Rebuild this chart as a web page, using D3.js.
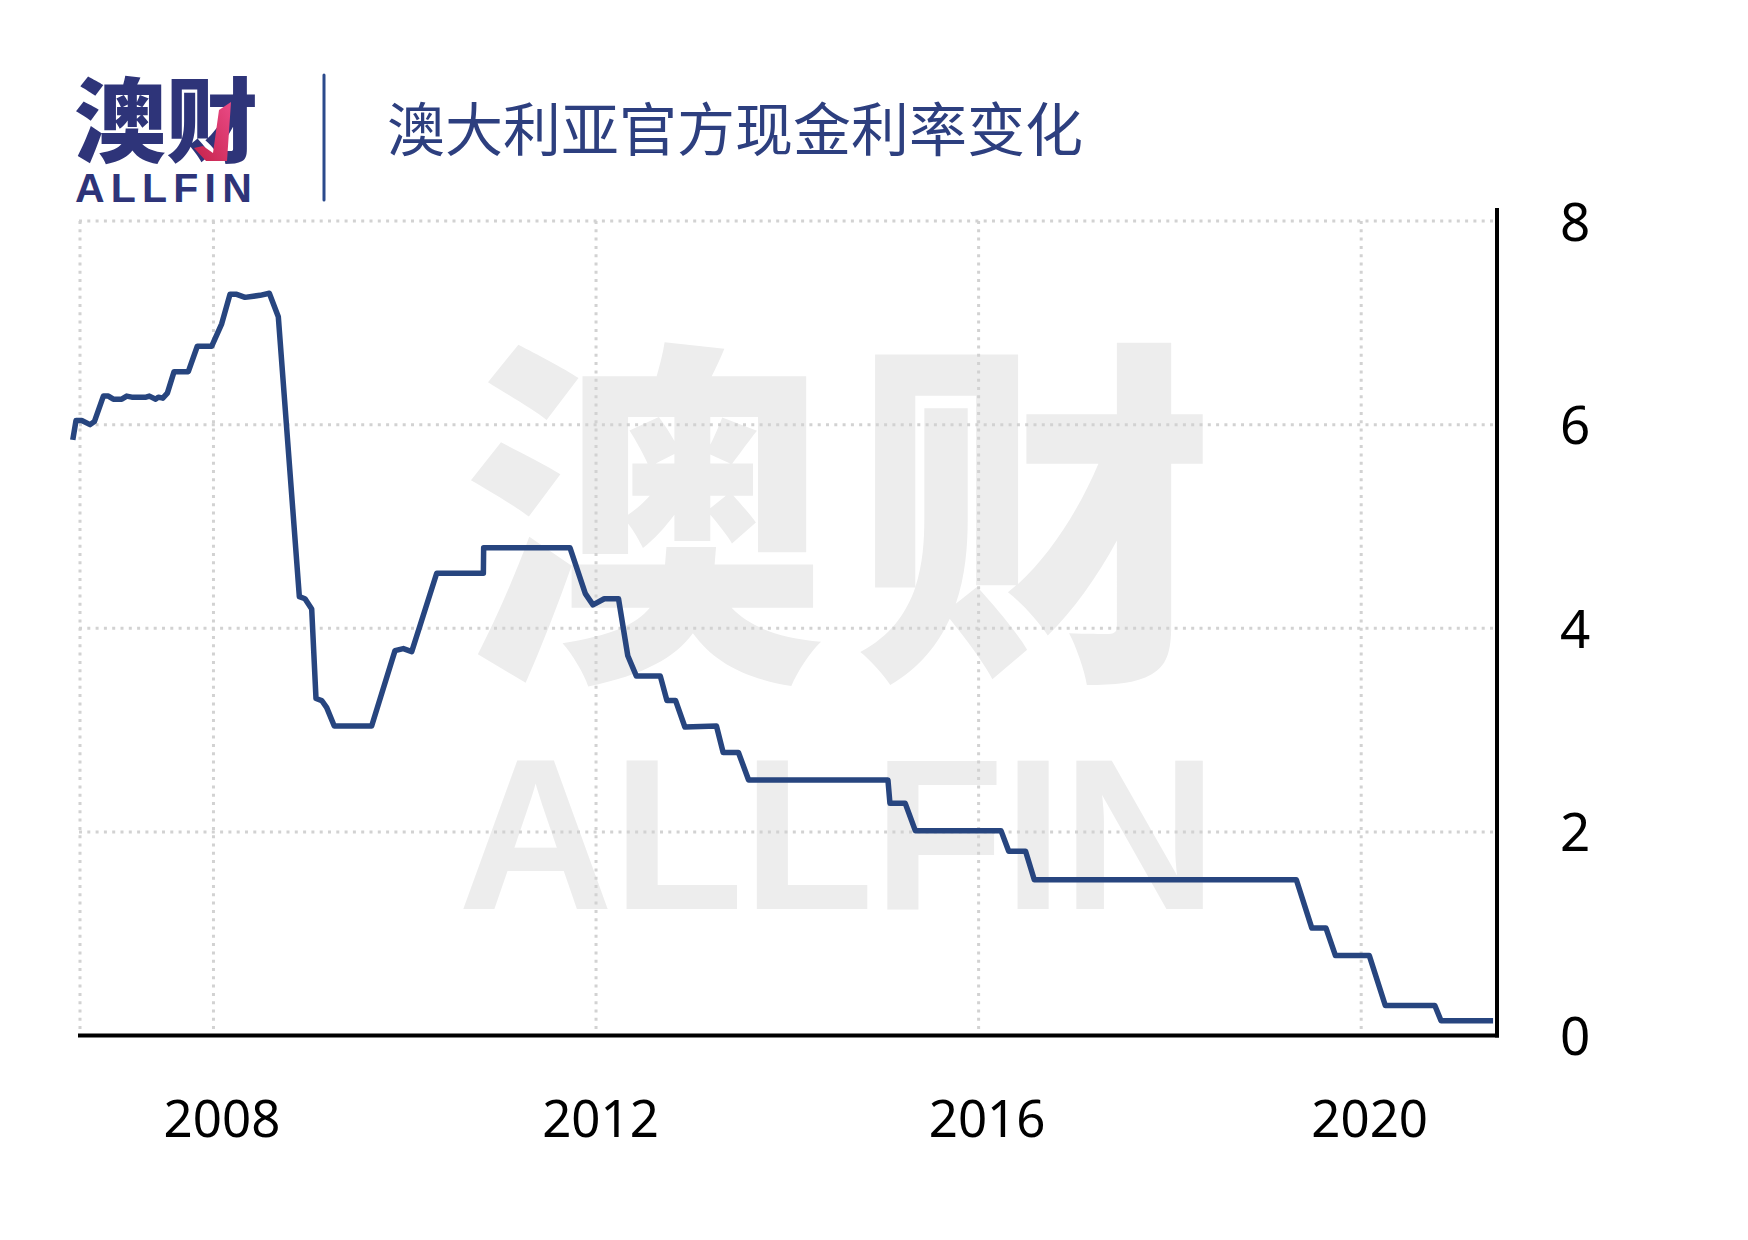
<!DOCTYPE html>
<html>
<head>
<meta charset="utf-8">
<script src="https://cdn.jsdelivr.net/npm/d3@7"></script>
<style>
html,body{margin:0;padding:0;background:#fff;}
svg{display:block;}
</style>
</head>
<body>
<svg id="chart" width="1748" height="1240"></svg>
<script>
// ---- data ----
const titleText = "澳大利亚官方现金利率变化";
const logoText = "澳财";
const logoSub = "ALLFIN";
const dates = [
  2006.529, 2006.563, 2006.623, 2006.710, 2006.755, 2006.849, 2006.901, 2006.953,
  2007.041, 2007.093, 2007.146, 2007.295, 2007.330, 2007.396, 2007.424, 2007.470,
  2007.518, 2007.588, 2007.737, 2007.831, 2007.982, 2008.086, 2008.173, 2008.243,
  2008.330, 2008.487, 2008.584, 2008.678, 2008.898, 2008.957, 2009.027, 2009.072,
  2009.132, 2009.184, 2009.263, 2009.654, 2009.898, 2009.985, 2010.073, 2010.334,
  2010.822, 2010.825, 2011.728, 2011.888, 2011.968, 2012.086, 2012.235, 2012.332,
  2012.422, 2012.672, 2012.741, 2012.832, 2012.929, 2013.259, 2013.329, 2013.489,
  2013.595, 2015.052, 2015.073, 2015.233, 2015.339, 2016.235, 2016.315, 2016.491,
  2016.582, 2019.322, 2019.484, 2019.632, 2019.731, 2020.085, 2020.252, 2020.770,
  2020.835, 2021.379
];
const rates = [
  5.85, 6.04, 6.04, 6.00, 6.03, 6.28, 6.28, 6.25,
  6.25, 6.28, 6.27, 6.27, 6.28, 6.25, 6.27, 6.26,
  6.31, 6.52, 6.52, 6.77, 6.77, 6.99, 7.28, 7.28,
  7.25, 7.27, 7.29, 7.06, 4.31, 4.29, 4.19, 3.31,
  3.29, 3.22, 3.04, 3.04, 3.78, 3.80, 3.77, 4.54,
  4.54, 4.79, 4.79, 4.34, 4.23, 4.29, 4.29, 3.73,
  3.53, 3.53, 3.29, 3.29, 3.03, 3.04, 2.78, 2.78,
  2.51, 2.51, 2.28, 2.28, 2.01, 2.01, 1.81, 1.81,
  1.53, 1.53, 1.055, 1.055, 0.785, 0.785, 0.295, 0.295,
  0.145, 0.145
];
const xTickValues = [2008, 2012, 2016, 2020];
const xTickLabels = ["2008", "2012", "2016", "2020"];
const yTickValues = [0, 2, 4, 6, 8];
const yTickLabels = ["0", "2", "4", "6", "8"];

// ---- layout ----
const svg = d3.select("#chart");
const x = d3.scaleLinear().domain([2006.5, 2021.42]).range([70, 1497]);
const y = d3.scaleLinear().domain([0, 8]).range([1035.5, 221]);
const plotLeft = 79, plotRight = 1497;
const navy = "#2e3479";
const lineColor = "#27457f";
const gridColor = "#d2d2d2";

svg.append("rect").attr("width", 1748).attr("height", 1240).attr("fill", "#fff");

const defs = svg.append("defs");
const grad = defs.append("linearGradient").attr("id", "pinkGrad")
  .attr("x1", "0").attr("y1", "1").attr("x2", "1").attr("y2", "0");
grad.append("stop").attr("offset", "0").attr("stop-color", "#c4224a");
grad.append("stop").attr("offset", "1").attr("stop-color", "#ea4a86");

// ---- watermark (one text block: characters + latin name) ----
const wm = svg.append("text").attr("fill", "#ededed").attr("font-weight", 900);
wm.append("tspan")
  .attr("x", 463).attr("y", 652)
  .attr("font-family", "'Noto Sans CJK SC'")
  .attr("font-size", 362)
  .attr("letter-spacing", 28)
  .text(logoText);
wm.append("tspan")
  .attr("x", 458).attr("y", 909)
  .attr("font-family", "'Liberation Sans', Arial, sans-serif")
  .attr("font-weight", 700)
  .attr("font-size", 215)
  .attr("letter-spacing", -1)
  .text(logoSub);

// ---- gridlines ----
const grid = svg.append("g")
  .attr("stroke", gridColor)
  .attr("stroke-width", 3)
  .attr("stroke-dasharray", "3 5.3");
grid.selectAll("line.h")
  .data(yTickValues.filter(v => v > 0))
  .join("line")
  .attr("class", "h")
  .attr("x1", plotLeft).attr("x2", plotRight - 4)
  .attr("y1", d => y(d)).attr("y2", d => y(d));
grid.selectAll("line.v")
  .data(xTickValues)
  .join("line")
  .attr("class", "v")
  .attr("x1", d => x(d)).attr("x2", d => x(d))
  .attr("y1", y(8)).attr("y2", y(0));
grid.append("line")
  .attr("x1", plotLeft + 1).attr("x2", plotLeft + 1)
  .attr("y1", y(8)).attr("y2", y(0));

// ---- axes ----
const xAxis = d3.axisBottom(x).tickValues(xTickValues).tickSize(0)
  .tickFormat((d, i) => xTickLabels[i]);
const gx = svg.append("g").attr("transform", `translate(0,${y(0)})`).call(xAxis);
gx.select(".domain").remove();
gx.selectAll("text")
  .attr("fill", "#000")
  .attr("font-family", "'Noto Sans', sans-serif")
  .attr("font-size", 51)
  .attr("dy", null)
  .attr("y", 101.5)
  .attr("x", (d, i) => i === 1 ? 4 : 8);

const yAxis = d3.axisRight(y).tickValues(yTickValues).tickSize(0)
  .tickFormat((d, i) => yTickLabels[i]);
const gy = svg.append("g").attr("transform", `translate(${plotRight},0)`).call(yAxis);
gy.select(".domain").remove();
gy.selectAll("text")
  .attr("fill", "#000")
  .attr("font-family", "'Noto Sans', sans-serif")
  .attr("font-size", 53)
  .attr("text-anchor", "start")
  .attr("x", 63)
  .attr("dy", null)
  .attr("y", 19);

// axis lines
svg.append("line")
  .attr("x1", plotLeft - 1).attr("x2", plotRight + 2)
  .attr("y1", y(0)).attr("y2", y(0))
  .attr("stroke", "#000").attr("stroke-width", 4);
svg.append("line")
  .attr("x1", plotRight).attr("x2", plotRight)
  .attr("y1", 208).attr("y2", y(0) + 2)
  .attr("stroke", "#000").attr("stroke-width", 4);

// ---- series line ----
const pts = dates.map((d, i) => [d, rates[i]]);
svg.append("path")
  .datum(pts)
  .attr("fill", "none")
  .attr("stroke", lineColor)
  .attr("stroke-width", 5.5)
  .attr("stroke-linejoin", "round")
  .attr("d", d3.line().x(d => x(d[0])).y(d => y(d[1])));

// ---- header: logo + title ----
const logo = svg.append("text").attr("fill", navy);
logo.append("tspan")
  .attr("x", 74).attr("y", 155)
  .attr("font-family", "'Noto Sans CJK SC'")
  .attr("font-weight", 900)
  .attr("font-size", 92)
  .text(logoText);
logo.append("tspan")
  .attr("x", 75).attr("y", 202)
  .attr("font-family", "'Liberation Sans', Arial, sans-serif")
  .attr("font-weight", 700)
  .attr("font-size", 41)
  .attr("letter-spacing", 6.2)
  .text(logoSub);
svg.append("polygon")
  .attr("points", "219,110 231,102 227,161 206,161 194,148 203,146 213,153")
  .attr("fill", "url(#pinkGrad)");
svg.append("line")
  .attr("x1", 324).attr("x2", 324)
  .attr("y1", 75).attr("y2", 200)
  .attr("stroke", "#2b4a8c").attr("stroke-width", 3).attr("stroke-linecap", "round");
svg.append("text")
  .attr("x", 387).attr("y", 151)
  .attr("font-family", "'Noto Sans CJK SC'")
  .attr("font-weight", 400)
  .attr("font-size", 58)
  .attr("fill", "#2d3f7f")
  .text(titleText);
</script>
</body>
</html>
